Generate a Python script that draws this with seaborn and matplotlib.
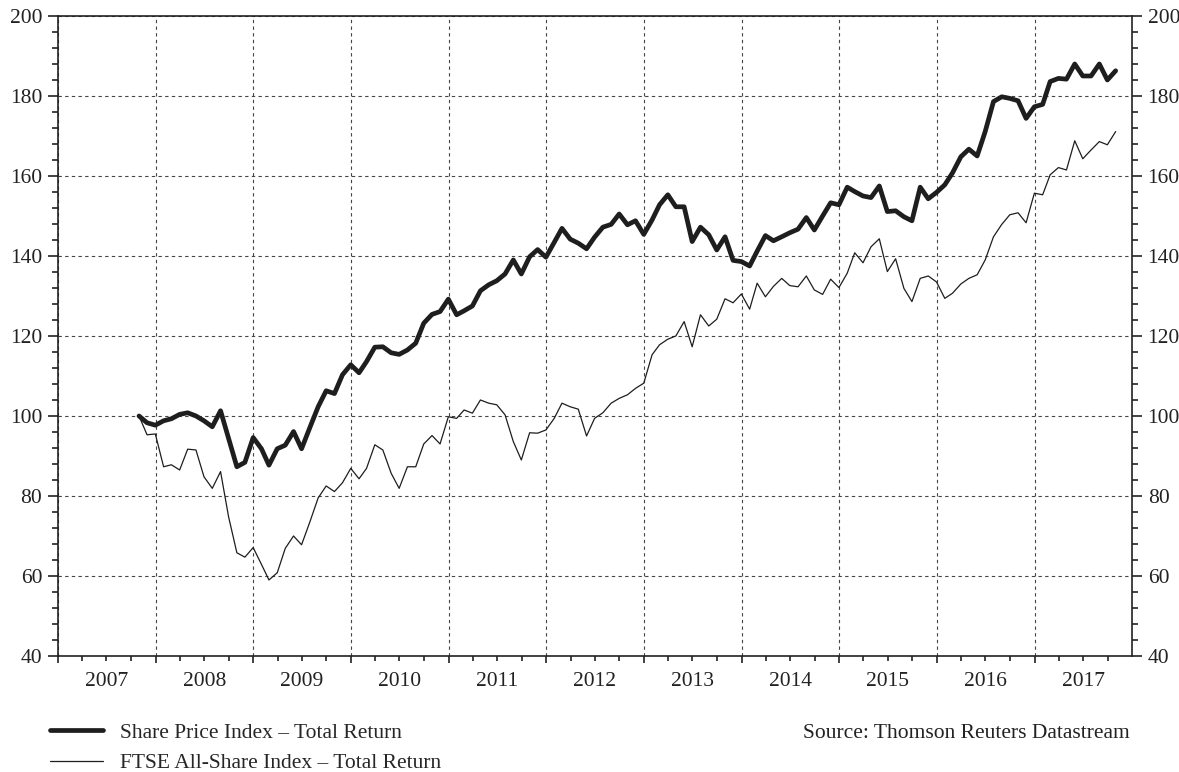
import numpy as np
import pandas as pd
import seaborn as sns
import matplotlib.pyplot as plt
import matplotlib.dates as mdates
from matplotlib.ticker import MultipleLocator, FuncFormatter

# monthly values, end Oct 2007 .. end Oct 2017 (rebased to 100)
share_price_tr = [
    100.0, 98.3, 97.7, 98.8, 99.3, 100.4, 100.8, 100.0, 98.8, 97.3,
    101.3, 94.4, 87.3, 88.4, 94.6, 91.8, 87.7, 91.8, 92.7, 96.1,
    91.8, 97.1, 102.3, 106.3, 105.6, 110.3, 112.8, 110.8, 113.6, 117.2,
    117.3, 115.8, 115.4, 116.5, 118.2, 123.2, 125.4, 126.1, 129.2, 125.3,
    126.3, 127.5, 131.3, 132.8, 133.8, 135.5, 139.0, 135.5, 139.8, 141.6,
    139.7, 143.4, 146.9, 144.2, 143.2, 141.8, 144.7, 147.2, 147.9, 150.5,
    147.8, 148.8, 145.4, 149.0, 152.8, 155.3, 152.3, 152.3, 143.6, 147.2,
    145.3, 141.5, 144.8, 138.9, 138.6, 137.5, 141.2, 145.1, 143.8, 144.8,
    145.8, 146.7, 149.6, 146.5, 150.0, 153.3, 152.8, 157.2, 156.1, 155.0,
    154.6, 157.5, 151.1, 151.3, 149.8, 148.8, 157.2, 154.3, 155.9, 157.8,
    160.8, 164.8, 166.7, 165.0, 171.1, 178.6, 179.8, 179.4, 178.8, 174.4,
    177.3, 177.9, 183.6, 184.4, 184.2, 188.0, 185.0, 185.0, 188.0, 184.0,
    186.3,
]
ftse_all_share_tr = [
    100.0, 95.3, 95.5, 87.3, 87.8, 86.5, 91.7, 91.5, 84.8, 81.9,
    86.1, 74.8, 65.8, 64.7, 67.1, 62.9, 59.0, 60.8, 66.9, 70.0,
    67.8, 73.5, 79.5, 82.5, 81.1, 83.3, 86.9, 84.3, 86.9, 92.8,
    91.5, 85.7, 81.9, 87.3, 87.3, 93.0, 95.1, 93.0, 99.8, 99.4,
    101.5, 100.7, 104.0, 103.2, 102.8, 100.3, 93.6, 89.0, 95.8, 95.7,
    96.5, 99.4, 103.2, 102.3, 101.7, 95.0, 99.4, 100.8, 103.2, 104.4,
    105.3, 106.9, 108.2, 115.3, 117.8, 119.2, 120.0, 123.6, 117.3, 125.3,
    122.5, 124.2, 129.3, 128.3, 130.5, 126.7, 133.2, 129.8, 132.4, 134.4,
    132.6, 132.3, 135.0, 131.5, 130.4, 134.2, 132.1, 135.7, 140.8, 138.3,
    142.3, 144.3, 136.1, 139.3, 131.9, 128.6, 134.4, 135.0, 133.5, 129.4,
    130.7, 133.0, 134.4, 135.3, 139.0, 144.8, 147.9, 150.3, 150.8, 148.3,
    155.7, 155.3, 160.3, 162.1, 161.5, 168.8, 164.3, 166.5, 168.6, 167.8,
    171.1,
]
dates = pd.date_range("2007-10-31", periods=len(share_price_tr), freq="ME")
labels = ["Share Price Index \u2013 Total Return", "FTSE All-Share Index \u2013 Total Return"]

sns.set_style("ticks")
plt.rcParams["font.family"] = ["Liberation Serif", "DejaVu Serif"]

fig = plt.figure(figsize=(11.79, 7.72), dpi=100)
ax = fig.add_axes([0.0492, 0.1503, 0.9109, 0.8290])

line_col = "#1e1e1e"
sns.lineplot(x=dates, y=share_price_tr, ax=ax, color=line_col, lw=3.4, label=labels[0])
sns.lineplot(x=dates, y=ftse_all_share_tr, ax=ax, color=line_col, lw=0.9, label=labels[1])

ax.set_xlim(pd.Timestamp("2007-01-01"), pd.Timestamp("2017-12-31"))
ax.set_ylim(40, 200)

# y axis: majors every 20, minors every 4, labels on both sides
ax.yaxis.set_major_locator(MultipleLocator(20))
ax.yaxis.set_minor_locator(MultipleLocator(4))
ax.tick_params(axis="y", which="both", direction="out", left=True, right=True,
               labelleft=True, labelright=True, labelsize=15.5, colors="#222222")
ax.tick_params(axis="y", which="major", length=7, width=1.2, pad=4.3)
ax.tick_params(axis="y", which="minor", length=4.5, width=1.2)

# x axis: ticks at year boundaries, quarterly minors, year label mid-year
ax.xaxis.set_major_locator(mdates.YearLocator())
ax.xaxis.set_major_formatter(FuncFormatter(lambda v, p: ""))
ax.xaxis.set_minor_locator(mdates.MonthLocator(bymonth=[4, 7, 10]))
ax.xaxis.set_minor_formatter(FuncFormatter(
    lambda v, p: str(mdates.num2date(v).year) if mdates.num2date(v).month == 7 else ""))
ax.tick_params(axis="x", which="both", direction="out", bottom=True, top=False,
               labelsize=15.5, colors="#222222", width=1.2)
ax.tick_params(axis="x", which="major", length=5)
ax.tick_params(axis="x", which="minor", length=3.5, pad=8)

for s in ax.spines.values():
    s.set_visible(True)
    s.set_linewidth(1.2)
    s.set_color("#222222")

ax.grid(True, which="major", color="#444444", linestyle=(0, (3, 3)), lw=0.8)
ax.set_axisbelow(True)
ax.set_xlabel("")
ax.set_ylabel("")

ax.get_legend().remove()
handles, lbls = ax.get_legend_handles_labels()
fig.legend(handles, lbls, loc="center left", bbox_to_anchor=(0.0424, 0.0312),
           frameon=False, fontsize=15.5, handlelength=2.45, handletextpad=0.8,
           labelspacing=0.5, borderpad=0, borderaxespad=0)

fig.text(0.9585, 0.0505, "Source: Thomson Reuters Datastream", ha="right", va="center",
         fontsize=15.5, color="#222222")

plt.savefig("out.png", dpi=100)
